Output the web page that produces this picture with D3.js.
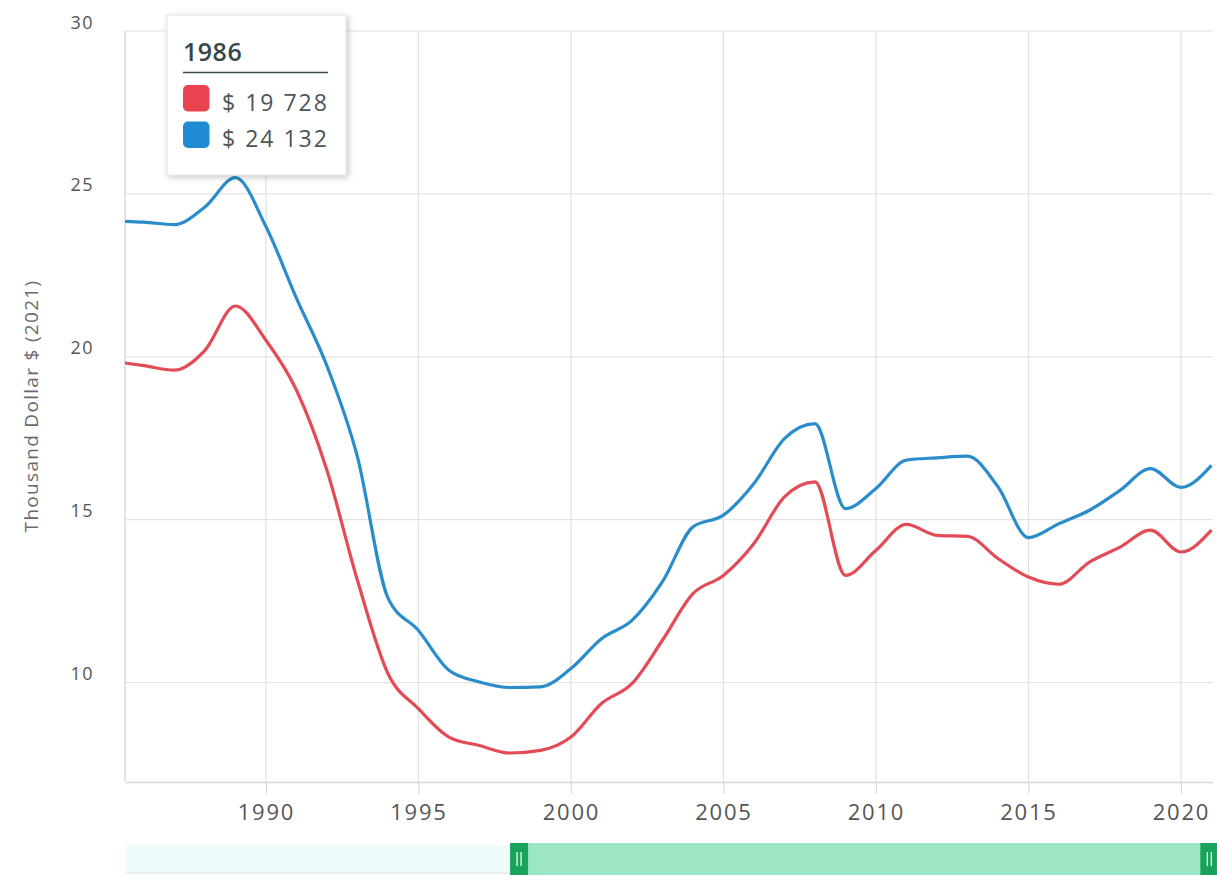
<!DOCTYPE html>
<html><head><meta charset="utf-8">
<script src="https://cdn.jsdelivr.net/npm/d3@7"></script>
<style>
body{margin:0;background:#fff;}
svg{display:block;font-family:"Open Sans",sans-serif;}
</style></head><body>
<svg id="chart" width="1217" height="880"></svg>
<script>
const years = [1985,1986,1987,1988,1989,1990,1991,1992,1993,1994,1995,1996,1997,1998,1999,2000,2001,2002,2003,2004,2005,2006,2007,2008,2009,2010,2011,2012,2013,2014,2015,2016,2017,2018,2019,2020,2021];
const seriesRed = [19.86,19.728,19.59,20.2,21.56,20.51,18.98,16.52,13.14,10.28,9.2,8.33,8.07,7.84,7.92,8.33,9.36,9.97,11.3,12.73,13.29,14.27,15.7,16.16,13.29,14.06,14.86,14.52,14.49,13.81,13.24,13.02,13.7,14.16,14.68,14.01,14.68];
const seriesBlue = [24.17,24.132,24.06,24.6,25.5,24.0,21.8,19.72,16.93,12.6,11.6,10.38,10.02,9.85,9.87,10.43,11.35,11.91,13.1,14.78,15.14,16.11,17.49,17.95,15.34,15.96,16.83,16.9,16.95,16.01,14.45,14.88,15.29,15.9,16.57,15.99,16.67];
const seriesColors = ["#e34b57","#2a8ccb"];
const swatchColors = ["#e8434f","#1f8bd3"];
const yTicks = [10,15,20,25,30];
const xTicks = [1990,1995,2000,2005,2010,2015,2020];
const tooltipYear = 1986;
const yTitle = "Thousand Dollar $ (2021)";
const sliderRange = [1998.3, 2020.93];

const svg = d3.select("#chart");
const L = 125, R = 1213, T = 31, B = 782;
const x = d3.scaleLinear().domain([1985.38, 2021.05]).range([L, R]);
const y = d3.scaleLinear().domain([6.95, 30]).range([B, T]);

svg.append("defs").append("clipPath").attr("id","clip")
  .append("rect").attr("x",L).attr("y",0).attr("width",R-L).attr("height",B);
const f = svg.select("defs").append("filter").attr("id","sh").attr("x","-20%").attr("y","-20%").attr("width","150%").attr("height","150%");
f.append("feDropShadow").attr("dx",2).attr("dy",2).attr("stdDeviation",3).attr("flood-color","#000").attr("flood-opacity",0.22);

svg.append("g").selectAll("line").data(yTicks).join("line")
  .attr("x1",L).attr("x2",R).attr("y1",d=>y(d)).attr("y2",d=>y(d))
  .attr("stroke","#e4e4e4").attr("stroke-width",1.2);

svg.append("g").selectAll("line").data(xTicks).join("line")
  .attr("x1",d=>x(d)).attr("x2",d=>x(d)).attr("y1",T).attr("y2",B)
  .attr("stroke","#e0e0e0").attr("stroke-width",1.2);

const xa = svg.append("g").attr("transform",`translate(0,${B})`)
  .call(d3.axisBottom(x).tickValues(xTicks).tickFormat(d3.format("d")).tickSize(12).tickSizeOuter(0));
xa.select(".domain").attr("stroke","#d3d8e0").attr("stroke-width",1.4);
xa.selectAll(".tick line").attr("stroke","#d8dbe0").attr("stroke-width",1.2);
xa.selectAll(".tick text").attr("y",38).attr("dy",0).attr("fill","#555")
  .style("font-size","22px").style("letter-spacing","1.8px").style("font-family","Open Sans");

svg.append("line").attr("x1",L).attr("x2",L).attr("y1",T).attr("y2",B)
  .attr("stroke","#d3d8e0").attr("stroke-width",1.4);

const ya = svg.append("g").attr("transform",`translate(${L},0)`)
  .call(d3.axisLeft(y).tickValues(yTicks).tickSize(0));
ya.select(".domain").remove();
ya.selectAll(".tick text").attr("x",-31).attr("dy",-3).attr("fill","#555")
  .style("font-size","18px").style("letter-spacing","1.5px").style("font-family","Open Sans");

svg.append("text").attr("transform","translate(38,406) rotate(-90)")
  .attr("text-anchor","middle").attr("fill","#6a6a6a")
  .style("font-size","19px").style("letter-spacing","1.3px").text(yTitle);

const line = d3.line().x((d,i)=>x(years[i])).y(d=>y(d)).curve(d3.curveMonotoneX);
const lg = svg.append("g").attr("clip-path","url(#clip)");
[seriesRed, seriesBlue].forEach((s,k)=>{
  lg.append("path").attr("d",line(s)).attr("fill","none")
    .attr("stroke",seriesColors[k]).attr("stroke-width",3.2).attr("stroke-linejoin","round");
});

const sy = 843, sh = 32;
svg.append("rect").attr("x",L+1).attr("y",sy+2).attr("width",x(sliderRange[0])-L-1).attr("height",sh-4)
  .attr("fill","#effcfc");
svg.append("line").attr("x1",L+1).attr("x2",x(sliderRange[0])).attr("y1",sy+sh-2).attr("y2",sy+sh-2)
  .attr("stroke","#e6eeee").attr("stroke-width",1.5);
svg.append("rect").attr("x",x(sliderRange[0])).attr("y",sy).attr("width",x(sliderRange[1])-x(sliderRange[0])).attr("height",sh)
  .attr("fill","#9de6c5");
sliderRange.forEach(v=>{
  const cx = x(v);
  svg.append("rect").attr("x",cx-9).attr("y",sy).attr("width",18).attr("height",sh).attr("fill","#18a25c");
  [-2,2].forEach(o=>svg.append("line").attr("x1",cx+o).attr("x2",cx+o).attr("y1",sy+9).attr("y2",sy+sh-9)
    .attr("stroke","#e8fff2").attr("stroke-width",1.3));
});

const idx = years.indexOf(tooltipYear);
const loc = d3.formatLocale({decimal:".",thousands:" ",grouping:[3],currency:["$",""]});
const fmt = v => "$ " + loc.format(",.0f")(v*1000);
const tg = svg.append("g");
tg.append("rect").attr("x",167).attr("y",15).attr("width",179).attr("height",160)
  .attr("fill","#fff").attr("stroke","#e2e2e2").attr("filter","url(#sh)");
tg.append("text").attr("x",183).attr("y",61).attr("fill","#34494a")
  .style("font-size","25px").style("font-weight","600").style("letter-spacing","0.5px").text(tooltipYear);
tg.append("line").attr("x1",183).attr("x2",328).attr("y1",72.5).attr("y2",72.5)
  .attr("stroke","#3b4a4a").attr("stroke-width",1.6);
[seriesRed, seriesBlue].forEach((s,k)=>{
  const yy = 85 + k*36.5;
  tg.append("rect").attr("x",183).attr("y",yy).attr("width",26.5).attr("height",26.5).attr("rx",5)
    .attr("fill",swatchColors[k]);
  tg.append("text").attr("x",222).attr("y",yy+25.5).attr("fill","#4b5656")
    .style("font-size","23px").style("letter-spacing","2px").text(fmt(s[idx]));
});
</script>
</body></html>
